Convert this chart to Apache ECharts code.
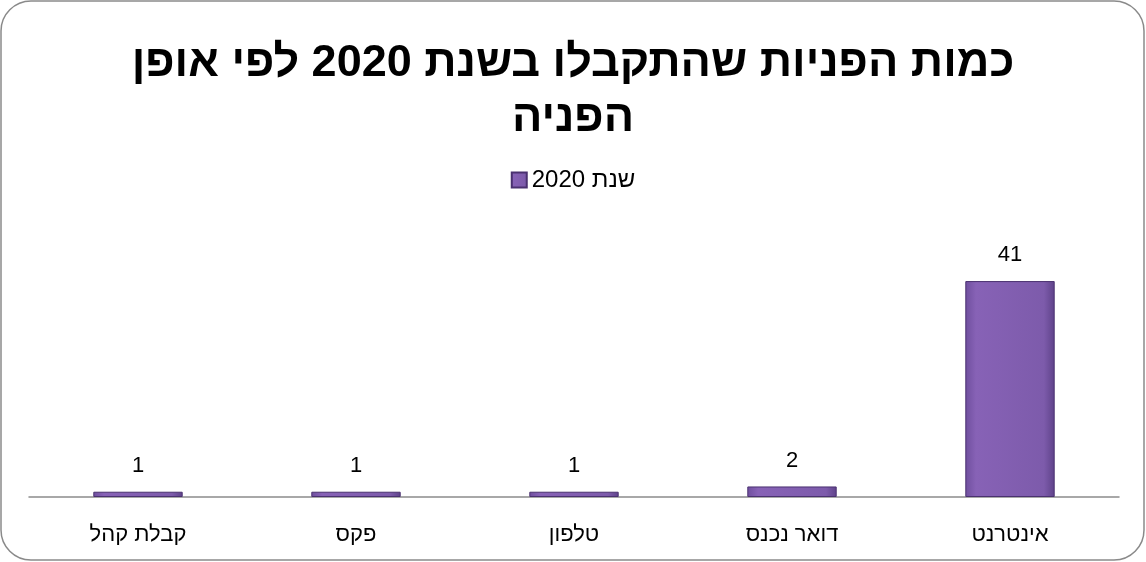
<!DOCTYPE html>
<html>
<head>
<meta charset="utf-8">
<script src="https://cdn.jsdelivr.net/npm/echarts@6/dist/echarts.min.js"></script>
<style>html,body{margin:0;padding:0;background:#fff}#c{width:1146px;height:562px}</style>
</head>
<body>
<div id="c"></div>
<script>
const categories = ['אינטרנט', 'דואר נכנס', 'טלפון', 'פקס', 'קבלת קהל'];
const values2020 = [41, 2, 1, 1, 1];
const seriesName = 'שנת 2020';
const titleText = 'כמות הפניות שהתקבלו בשנת 2020 לפי אופן\nהפניה';

const FONT = '"Liberation Sans", Arial, sans-serif';
const chart = echarts.init(document.getElementById('c'));
const barColor = new echarts.graphic.LinearGradient(0, 0, 1, 0, [
  {offset: 0, color: '#6f4f9e'},
  {offset: 0.12, color: '#8762b6'},
  {offset: 0.88, color: '#7d5bab'},
  {offset: 1, color: '#5e4289'}
]);
chart.setOption({
  animation: false,
  title: {
    text: titleText,
    left: 'center',
    top: 31,
    textStyle: {fontFamily: FONT, fontWeight: 'bold', fontSize: 45, lineHeight: 55, color: '#000', align: 'center'}
  },
  legend: {
    data: [seriesName],
    top: 163,
    left: 'center',
    itemWidth: 15,
    itemHeight: 15,
    itemGap: 4,
    icon: 'rect',
    textStyle: {fontFamily: FONT, fontSize: 24, color: '#000'}
  },
  grid: {left: 29, right: 27, top: 260, bottom: 65},
  xAxis: {
    type: 'category',
    data: categories,
    inverse: true,
    axisLine: {lineStyle: {color: '#8c8c8c', width: 1.5}},
    axisTick: {show: false},
    axisLabel: {fontFamily: FONT, fontSize: 22, color: '#000', margin: 27}
  },
  yAxis: {type: 'value', min: 0, max: 45, show: false, splitLine: {show: false}},
  series: [{
    name: seriesName,
    type: 'bar',
    data: values2020,
    barWidth: '41%',
    itemStyle: {color: barColor, borderColor: '#4a3170', borderWidth: 1},
    label: {show: true, position: 'top', distance: 15, fontFamily: FONT, fontSize: 22, color: '#000'}
  }],
  graphic: [{
    type: 'rect',
    shape: {x: 1, y: 1, width: 1143, height: 559, r: 30},
    style: {fill: 'none', stroke: '#8a8a8a', lineWidth: 1.5},
    silent: true,
    z: -1
  }]
});
</script>
</body>
</html>
